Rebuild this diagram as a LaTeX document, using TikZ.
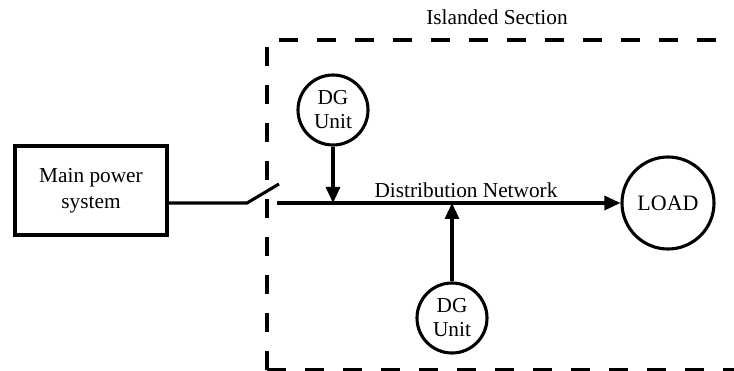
\documentclass[tikz,border=0pt]{standalone}
\usepackage{fontspec}
\setmainfont{Liberation Serif}
\usetikzlibrary{arrows.meta}
\begin{document}
\begin{tikzpicture}[x=1pt,y=-1pt,
  wire/.style={line width=3.1pt},
  arr/.style={wire,-{Triangle[length=16pt,width=14pt]}},
  unit/.style={circle,draw,line width=3.1pt,minimum size=70pt,inner sep=0pt,align=center,font=\fontsize{21.3}{24}\selectfont},
  lbl/.style={font=\fontsize{21.3}{24}\selectfont,inner sep=0pt},
  island/.style={line width=3.1pt,dash pattern=on 19pt off 19pt}]
\useasboundingbox (0,0) rectangle (734,371);
\node[draw,line width=3.1pt,minimum width=152pt,minimum height=89pt,inner sep=0pt,align=center,font=\fontsize{21.3}{26}\selectfont] (main) at (91,190.5) {Main power\\system};
\draw[island] (267,370) -- (267,40) -- (760,40);
\draw[island] (267,370) -- (760,370);
\node[lbl] (isl) at (497,17) {Islanded Section};
\coordinate (s1) at (247,203);
\coordinate (s2) at (279,184);
\coordinate (s3) at (277,203);
\draw[wire] (main.east |- s1) -- (s1) -- (s2);
\node[unit] (dg1) at (333,110) {DG\\Unit};
\node[unit] (dg2) at (452,318) {DG\\Unit};
\node[unit,minimum size=92pt,font=\fontsize{22}{24}\selectfont] (load) at (668,203) {LOAD};
\draw[arr] (s3) -- (load.west);
\coordinate (j1) at (333,203);
\coordinate (j2) at (452,203);
\draw[arr] (dg1.south) -- (j1);
\draw[arr] (dg2.north) -- (j2);
\node[lbl] (dn) at (466,190) {Distribution Network};
\end{tikzpicture}
\end{document}
